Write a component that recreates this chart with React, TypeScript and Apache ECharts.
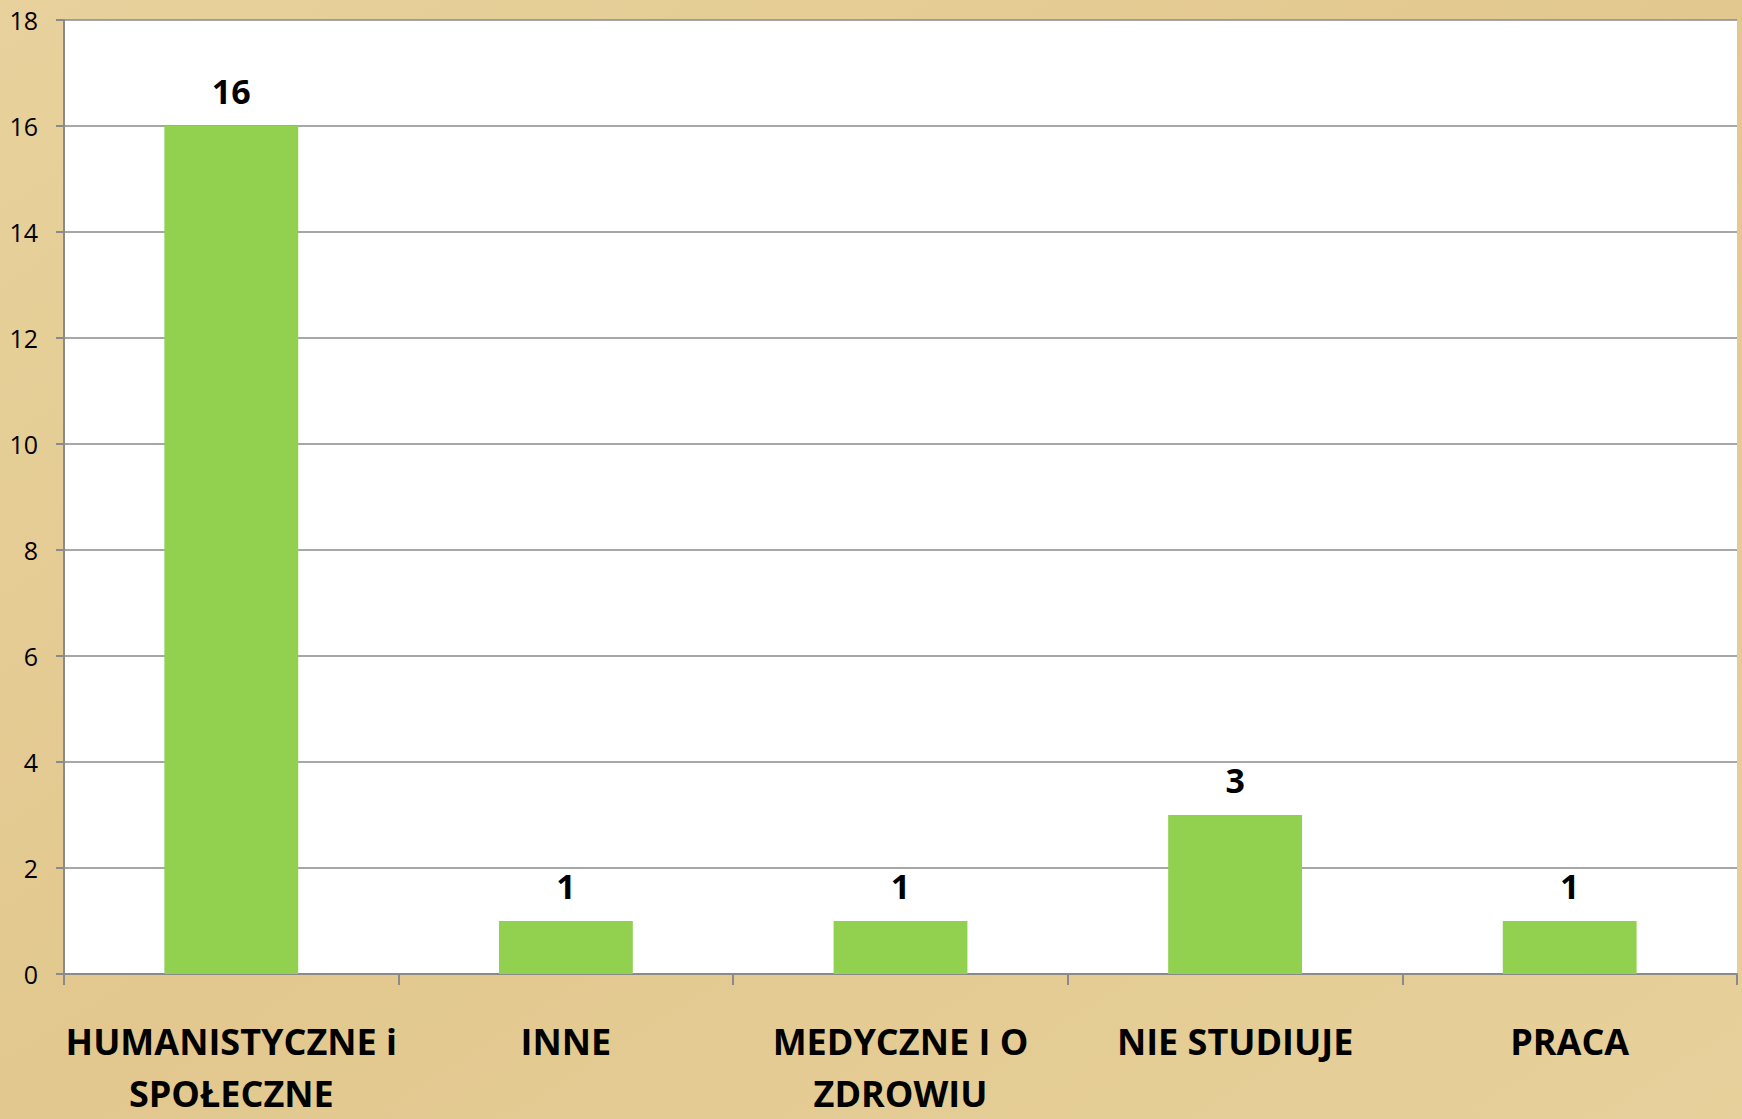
import React, { useEffect, useRef } from "react";
import * as echarts from "echarts";

const categories = ["HUMANISTYCZNE i\nSPOŁECZNE", "INNE", "MEDYCZNE I O\nZDROWIU", "NIE STUDIUJE", "PRACA"];
const values = [16, 1, 1, 3, 1];
const yTicks = { min: 0, max: 18, interval: 2 };

export default function App() {
  const ref = useRef<HTMLDivElement>(null);
  useEffect(() => {
    document.body.style.margin = "0";
    const chart = echarts.init(ref.current!, null, { renderer: "svg" });
    chart.setOption({
      animation: false,
      backgroundColor: {
        type: "linear", x: 0, y: 0, x2: 1, y2: 1,
        colorStops: [
          { offset: 0, color: "#e8d19c" },
          { offset: 0.5, color: "#e2c88e" },
          { offset: 1, color: "#e7d09b" },
        ],
      },
      textStyle: { fontFamily: "Open Sans" },
      grid: { left: 64, right: 5, top: 20, bottom: 139, show: true, backgroundColor: "#ffffff", borderWidth: 0 },
      xAxis: {
        type: "category",
        data: categories,
        axisLine: { lineStyle: { color: "#8a8a8a", width: 2 } },
        axisTick: { show: true, length: 11, lineStyle: { color: "#8a8a8a", width: 2 } },
        axisLabel: {
          interval: 0,
          margin: 41,
          color: "#000",
          fontWeight: "bold",
          fontSize: 36,
          lineHeight: 52,
          fontFamily: "Open Sans",
          align: "center",
        },
      },
      yAxis: {
        type: "value",
        min: yTicks.min,
        max: yTicks.max,
        interval: yTicks.interval,
        axisLine: { show: true, lineStyle: { color: "#8a8a8a", width: 2 } },
        axisTick: { show: true, length: 8, lineStyle: { color: "#8a8a8a", width: 2 } },
        splitLine: { show: true, lineStyle: { color: "#8a8a8a", width: 1.5 } },
        axisLabel: { margin: 26, color: "#000", fontSize: 25, fontFamily: "Open Sans" },
      },
      series: [
        {
          type: "bar",
          data: values,
          barWidth: "40%",
          itemStyle: { color: "#92d050" },
          label: {
            show: true,
            position: "top",
            distance: 18,
            color: "#000",
            fontWeight: "bold",
            fontSize: 34,
            fontFamily: "Open Sans",
          },
        },
      ],
    });
    return () => chart.dispose();
  }, []);
  return <div ref={ref} style={{ position: "absolute", left: 0, top: 0, width: 1742, height: 1119 }} />;
}
